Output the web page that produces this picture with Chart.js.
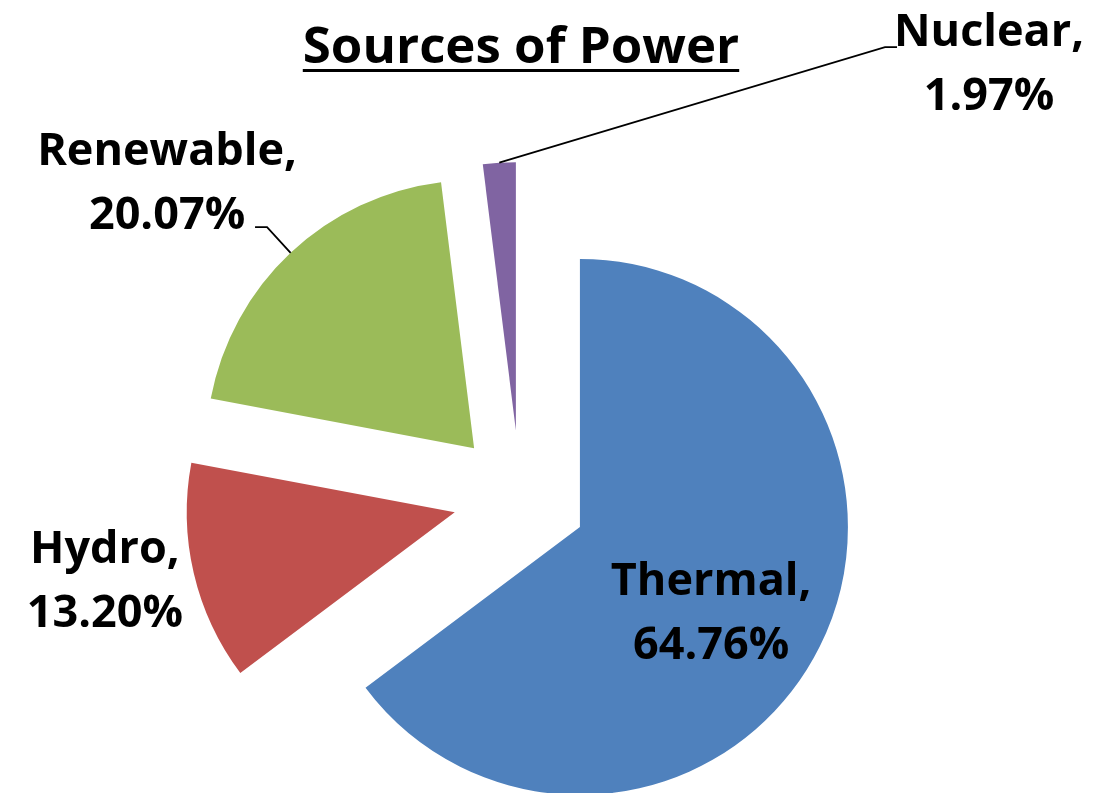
<!DOCTYPE html>
<html>
<head>
<meta charset="utf-8">
<title>Sources of Power</title>
<script src="https://cdn.jsdelivr.net/npm/chart.js@4.4.1/dist/chart.umd.min.js"></script>
<style>
  html, body { margin: 0; padding: 0; background: #fff; }
  #wrap { position: relative; width: 1117px; height: 793px; }
  #title {
    position: absolute; left: 0; top: 18px; width: 1042px; margin: 0;
    text-align: center; font: bold 51px/1 "Open Sans", sans-serif; color: #000;
    text-decoration: underline; text-decoration-thickness: 3px; text-underline-offset: 6px;
  }
  canvas { position: absolute; left: 0; top: 0; }
</style>
</head>
<body>
<div id="wrap">
  <canvas id="powerChart" width="1117" height="793"></canvas>
  <h1 id="title">Sources of Power</h1>
</div>
<script>
// =======================
// DATA
// =======================
const categories = ["Thermal", "Hydro", "Renewable", "Nuclear"];
const shares = [64.76, 13.20, 20.07, 1.97];

// =======================
// STYLE
// =======================
const sliceColors = ["#4F81BD", "#C0504D", "#9BBB59", "#8064A2"];
const EXPLODE = 67; // every slice pulled out by the same distance
// label centre relative to pie centre, in radii
const labelSpots = [[0.713, 0.425], [-1.549, 0.306], [-1.317, -1.179], [1.75, -1.623]];
// leader line knee + end, relative to label centre (null = no line)
const leaders = [null, null, [[100, 46], [88, 46]], [[-104, -15], [-92, -15]]];

// push each arc out along its middle angle, without changing its radius
const arcDraw = Chart.ArcElement.prototype.draw;
Chart.ArcElement.prototype.draw = function (ctx, area) {
  const mid = (this.startAngle + this.endAngle) / 2;
  ctx.save();
  ctx.translate(Math.cos(mid) * EXPLODE, Math.sin(mid) * EXPLODE);
  arcDraw.call(this, ctx, area);
  ctx.restore();
};

const sliceLabels = {
  id: "sliceLabels",
  afterDatasetsDraw(chart) {
    const ctx = chart.ctx;
    const arcs = chart.getDatasetMeta(0).data;
    ctx.save();
    ctx.font = 'bold 45px "Open Sans"';
    ctx.fillStyle = "#000";
    ctx.strokeStyle = "#000";
    ctx.lineWidth = 1.8;
    ctx.textAlign = "center";
    ctx.textBaseline = "alphabetic";
    arcs.forEach((arc, i) => {
      const r = arc.outerRadius;
      const mid = (arc.startAngle + arc.endAngle) / 2;
      const cx = arc.x + labelSpots[i][0] * r;
      const cy = arc.y + labelSpots[i][1] * r;
      if (leaders[i]) {
        const [knee, end] = leaders[i];
        const reach = r + EXPLODE;
        ctx.beginPath();
        ctx.moveTo(arc.x + Math.cos(mid) * reach, arc.y + Math.sin(mid) * reach);
        ctx.lineTo(cx + knee[0], cy + knee[1]);
        ctx.lineTo(cx + end[0], cy + end[1]);
        ctx.stroke();
      }
      ctx.fillText(categories[i] + ",", cx, cy - 16);
      ctx.fillText(shares[i].toFixed(2) + "%", cx, cy + 48);
    });
    ctx.restore();
  }
};

new Chart(document.getElementById("powerChart"), {
  type: "pie",
  data: {
    labels: categories,
    datasets: [{
      data: shares,
      backgroundColor: sliceColors,
      borderWidth: 0,
      hoverBorderWidth: 0,
      hoverOffset: 0
    }]
  },
  options: {
    responsive: false,
    animation: false,
    events: [],
    layout: { padding: { left: 252, right: 329, top: 229, bottom: 28 } },
    plugins: {
      legend: { display: false },
      tooltip: { enabled: false }
    }
  },
  plugins: [sliceLabels]
});
</script>
</body>
</html>
